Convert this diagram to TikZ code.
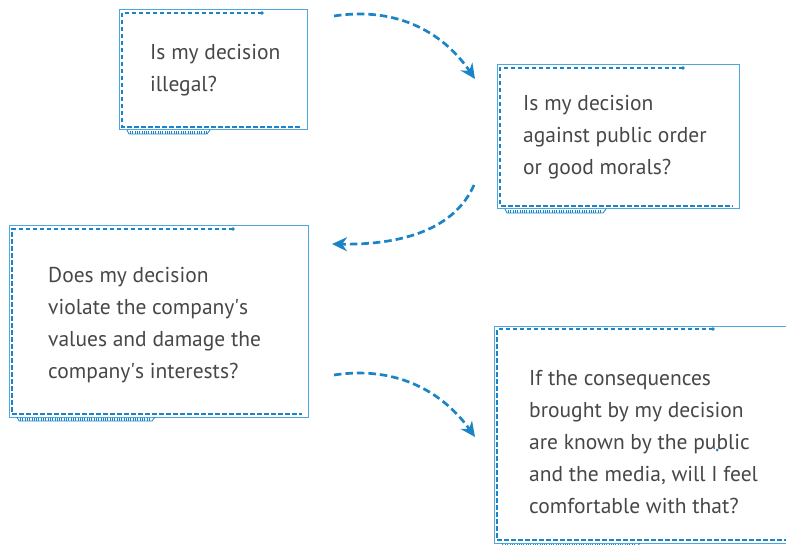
\documentclass[tikz,border=0pt]{standalone}
\usepackage{fontspec}
\setmainfont{PT Sans}
\usetikzlibrary{arrows.meta}
\definecolor{framebl}{HTML}{4FA6DD}
\definecolor{dashbl}{HTML}{1A84C7}
\definecolor{txtgray}{HTML}{474747}

\begin{document}
\begin{tikzpicture}[x=1pt, y=-1pt,
                    frame/.style = {draw=framebl, line width=1pt},
                    inner/.style = {draw=dashbl, line width=1.4pt, dash pattern=on 4.5pt off 2.5pt},
                    tab/.style = {draw=dashbl, line width=0.8pt},
                    stripes/.style = {draw=dashbl, line width=3pt, dash pattern=on 1pt off 1.3pt},
                    qtext/.style = {anchor=west, align=left, inner sep=0pt, text=txtgray, font=\fontsize{21.5}{32}\selectfont},
                    flow/.style = {draw=dashbl, line width=2.7pt, dash pattern=on 7.5pt off 4pt, -{Stealth[length=15pt, width=14pt]}},
                ]
                    \useasboundingbox (0,0) rectangle (786,545);
                    % frames: left/top/right/bottom/end of top dashes/end of tab
                    \foreach \l/\t/\r/\b/\d/\e in {119/10/307/130/262/210, 497/65/739/209/683/606, 9/226/308/417/233/155, 494/326/800/543/713/640}{
                        \draw[frame] (\l,\t) rectangle (\r,\b);
                        \draw[inner] (\d,\t+3) -- (\l+3,\t+3) -- (\l+3,\b-3) -- (\r-6,\b-3);
                        \fill[dashbl] (\d,\t+3) circle (1.9);
                        \draw[tab] (\l+8,\b) -- (\l+10,\b+4) -- (\e-3,\b+4) -- (\e,\b);
                        \draw[stripes] (\l+11,\b+2.3) -- (\e-4,\b+2.3);
                    }
                    \node[qtext] (illegal) at (150,70) {Is my decision\\illegal?};
                    \node[qtext] (morals) at (523,137) {Is my decision\\against public order\\or good morals?};
                    \node[qtext] (values) at (48,325.5) {Does my decision\\violate the company\textquotesingle s\\values and damage the\\company\textquotesingle s interests?};
                    \node[qtext] (public) at (529,442) {If the consequences\\brought by my decision\\are known by the public\\and the media, will I feel\\comfortable with that?};
                    \fill[dashbl] (717,450) circle (1.5);
                    % arrows between the questions
                    \coordinate (s1) at (334,16);
                    \coordinate (e1) at (475,79);
                    \coordinate (s2) at (474,185);
                    \coordinate (e2) at (332,244);
                    \coordinate (s3) at (334,375);
                    \coordinate (e3) at (475,437);
                    \draw[flow] (s1) .. controls (400,6) and (445,35) .. (e1);
                    \draw[flow] (s2) .. controls (455,228) and (405,245) .. (e2);
                    \draw[flow] (s3) .. controls (400,365) and (445,395) .. (e3);
\end{tikzpicture}
\end{document}
